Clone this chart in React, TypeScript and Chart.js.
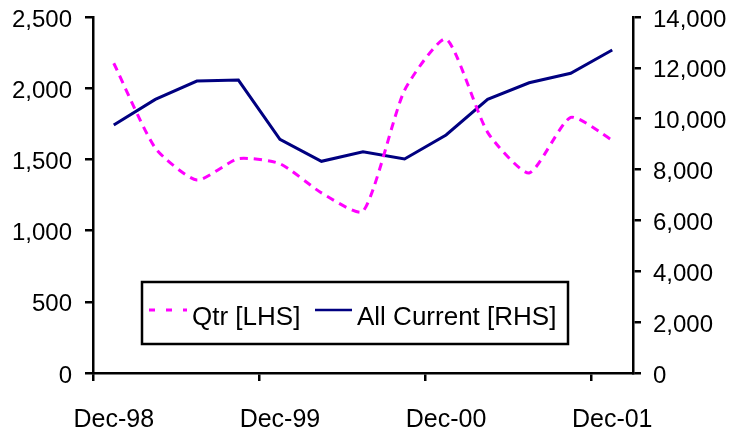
import React, { useEffect, useRef } from 'react';
import { Chart, registerables } from 'chart.js';

Chart.register(...registerables);

const categories = [
  'Dec-98', 'Mar-99', 'Jun-99', 'Sep-99',
  'Dec-99', 'Mar-00', 'Jun-00', 'Sep-00',
  'Dec-00', 'Mar-01', 'Jun-01', 'Sep-01',
  'Dec-01',
];
const xTickLabels = ['Dec-98', 'Dec-99', 'Dec-00', 'Dec-01'];
const qtrLHS = [2175, 1580, 1355, 1505, 1470, 1265, 1135, 1985, 2345, 1690, 1405, 1795, 1635];
const allCurrentRHS = [9750, 10760, 11480, 11520, 9190, 8325, 8700, 8415, 9360, 10760, 11415, 11785, 12700];
const leftAxis = { min: 0, max: 2500, step: 500 };
const rightAxis = { min: 0, max: 14000, step: 2000 };
const seriesLabels = ['Qtr [LHS]', 'All Current [RHS]'];

const FONT = '"Liberation Sans", Arial, sans-serif';

const boxLegend = {
  id: 'boxLegend',
  afterDraw(chart: any) {
    const ctx = chart.ctx as CanvasRenderingContext2D;
    const x0 = 142;
    const y0 = 282;
    const w = 426;
    const h = 62;
    ctx.save();
    ctx.fillStyle = '#ffffff';
    ctx.fillRect(x0, y0, w, h);
    ctx.lineWidth = 2.5;
    ctx.strokeStyle = '#000000';
    ctx.strokeRect(x0, y0, w, h);
    const ds = chart.data.datasets;
    const lineY = y0 + 28;
    ctx.beginPath();
    ctx.setLineDash([6, 11]);
    ctx.strokeStyle = ds[0].borderColor;
    ctx.lineWidth = 3;
    ctx.moveTo(x0 + 7, lineY);
    ctx.lineTo(x0 + 45, lineY);
    ctx.stroke();
    ctx.setLineDash([]);
    ctx.fillStyle = '#000';
    ctx.font = `26px ${FONT}`;
    ctx.textBaseline = 'alphabetic';
    ctx.textAlign = 'left';
    ctx.fillText(ds[0].label, x0 + 50, y0 + 43);
    ctx.beginPath();
    ctx.strokeStyle = ds[1].borderColor;
    ctx.lineWidth = 2.5;
    ctx.moveTo(x0 + 173, lineY);
    ctx.lineTo(x0 + 210, lineY);
    ctx.stroke();
    ctx.fillText(ds[1].label, x0 + 215, y0 + 43);
    ctx.restore();
  },
};

export default function App() {
  const canvasRef = useRef<HTMLCanvasElement | null>(null);

  useEffect(() => {
    document.body.style.margin = '0';
    const canvas = canvasRef.current;
    if (!canvas) return;
    const tickColorX = (c: any) => (c.index % 4 === 0 ? '#000' : 'rgba(0,0,0,0)');
    const fitY = (w: number) => (s: any) => {
      s.width = w;
      s.paddingTop = 0;
      s.paddingBottom = 0;
    };
    const chart = new Chart(canvas, {
      type: 'line',
      data: {
        labels: categories,
        datasets: [
          {
            label: seriesLabels[0],
            data: qtrLHS,
            yAxisID: 'yL',
            borderColor: '#FF00FF',
            borderWidth: 3,
            borderDash: [8, 6],
            tension: 0.2,
            pointRadius: 0,
            fill: false,
          },
          {
            label: seriesLabels[1],
            data: allCurrentRHS,
            yAxisID: 'yR',
            borderColor: '#000080',
            borderWidth: 3,
            tension: 0,
            pointRadius: 0,
            fill: false,
          },
        ],
      },
      options: {
        animation: false,
        responsive: true,
        maintainAspectRatio: false,
        layout: { padding: { top: 17, left: 0, right: 0, bottom: 0 } },
        plugins: {
          legend: { display: false },
          tooltip: { enabled: false },
        },
        scales: {
          x: {
            type: 'category',
            offset: true,
            afterFit: (s: any) => {
              s.height = 62;
              s.paddingLeft = 0;
              s.paddingRight = 0;
            },
            border: { display: true, color: '#000', width: 2.5 },
            grid: {
              offset: true,
              drawOnChartArea: false,
              drawTicks: true,
              tickLength: 8,
              lineWidth: 2.5,
              tickWidth: 2.5,
              color: tickColorX,
              tickColor: tickColorX,
            },
            ticks: {
              autoSkip: false,
              maxRotation: 0,
              minRotation: 0,
              padding: 24,
              color: '#000',
              font: { family: FONT, size: 25 },
              callback: (_v: any, i: number) =>
                xTickLabels.includes(categories[i]) ? categories[i] : '',
            },
          },
          yL: {
            type: 'linear',
            position: 'left',
            min: leftAxis.min,
            max: leftAxis.max,
            afterFit: fitY(93),
            border: { display: true, color: '#000', width: 2.5 },
            grid: {
              drawOnChartArea: false,
              drawTicks: true,
              tickLength: 8,
              lineWidth: 2.5,
              tickWidth: 2.5,
              color: '#000',
              tickColor: '#000',
            },
            ticks: {
              stepSize: leftAxis.step,
              padding: 13,
              labelOffset: 3,
              color: '#000',
              font: { family: FONT, size: 24 },
              callback: (v: any) => Number(v).toLocaleString('en-US'),
            },
          },
          yR: {
            type: 'linear',
            position: 'right',
            min: rightAxis.min,
            max: rightAxis.max,
            afterFit: fitY(97),
            border: { display: true, color: '#000', width: 2.5 },
            grid: {
              drawOnChartArea: false,
              drawTicks: true,
              tickLength: 8,
              lineWidth: 2.5,
              tickWidth: 2.5,
              color: '#000',
              tickColor: '#000',
            },
            ticks: {
              stepSize: rightAxis.step,
              padding: 12,
              labelOffset: 3,
              color: '#000',
              font: { family: FONT, size: 24 },
              callback: (v: any) => Number(v).toLocaleString('en-US'),
            },
          },
        },
      },
      plugins: [boxLegend],
    });
    return () => chart.destroy();
  }, []);

  return (
    <div style={{ position: 'fixed', left: 0, top: 0, width: 730, height: 435, background: '#fff' }}>
      <canvas ref={canvasRef} />
    </div>
  );
}
